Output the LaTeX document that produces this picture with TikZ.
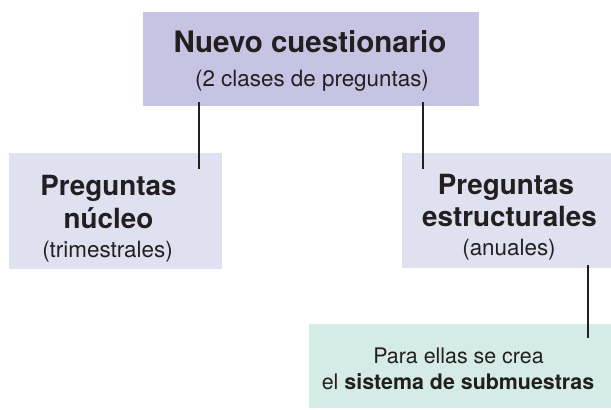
\documentclass[tikz,border=0pt]{standalone}
\usepackage{fontspec}
\setmainfont{TeX Gyre Heros}
\definecolor{topfill}{HTML}{C7C3E2}
\definecolor{midfill}{HTML}{DFE1F1}
\definecolor{greenfill}{HTML}{D5ECE6}
\definecolor{ink}{HTML}{231F20}
\tikzset{
  box/.style={rectangle, inner sep=0pt, draw=none},
  txt/.style={anchor=base, inner sep=0pt, text=ink},
  bigbold/.style={txt, font=\fontsize{29.5bp}{33bp}\selectfont\bfseries},
  midbold/.style={txt, font=\fontsize{27.8bp}{33bp}\selectfont\bfseries},
  small/.style={txt, font=\fontsize{22.4bp}{26bp}\selectfont},
  gtext/.style={txt, font=\fontsize{21.4bp}{26bp}\selectfont},
  link/.style={draw=ink, line width=1.1bp}
}
\begin{document}
\begin{tikzpicture}[x=1bp,y=-1bp]
\useasboundingbox (0,0) rectangle (611,409);
% boxes
\node[box, fill=topfill, minimum width=336bp, minimum height=94bp] (top) at (311,59) {};
\node[box, fill=midfill, minimum width=213bp, minimum height=116bp] (left) at (115.5,211) {};
\node[box, fill=midfill, minimum width=209bp, minimum height=115bp] (right) at (506.5,210.5) {};
\node[box, fill=greenfill, minimum width=302bp, minimum height=84bp] (green) at (460,366) {};
% texts
\node[bigbold] (t1) at (310,52) {Nuevo cuestionario};
\node[small] (t2) at (312,86) {(2 clases de preguntas)};
\node[midbold] (l1) at (108.5,195) {Preguntas};
\node[midbold] (l2) at (108.5,228) {núcleo};
\node[small] (l3) at (107.5,257) {(trimestrales)};
\node[midbold] (r1) at (506,194) {Preguntas};
\node[midbold] (r2) at (509.5,226) {estructurales};
\node[small] (r3) at (509,255) {(anuales)};
\node[gtext] (g1) at (458.5,363) {Para ellas se crea};
\node[gtext] (g2) at (458,389) {el \textbf{sistema de submuestras}};
% connectors
\coordinate (ca) at (199,102);
\coordinate (cb) at (199,169);
\coordinate (cc) at (423,102);
\coordinate (cd) at (423,169);
\coordinate (ce) at (588,265);
\coordinate (cf) at (588,338);
\draw[link] (ca) -- (cb);
\draw[link] (cc) -- (cd);
\draw[link] (ce) -- (cf);
\end{tikzpicture}
\end{document}
